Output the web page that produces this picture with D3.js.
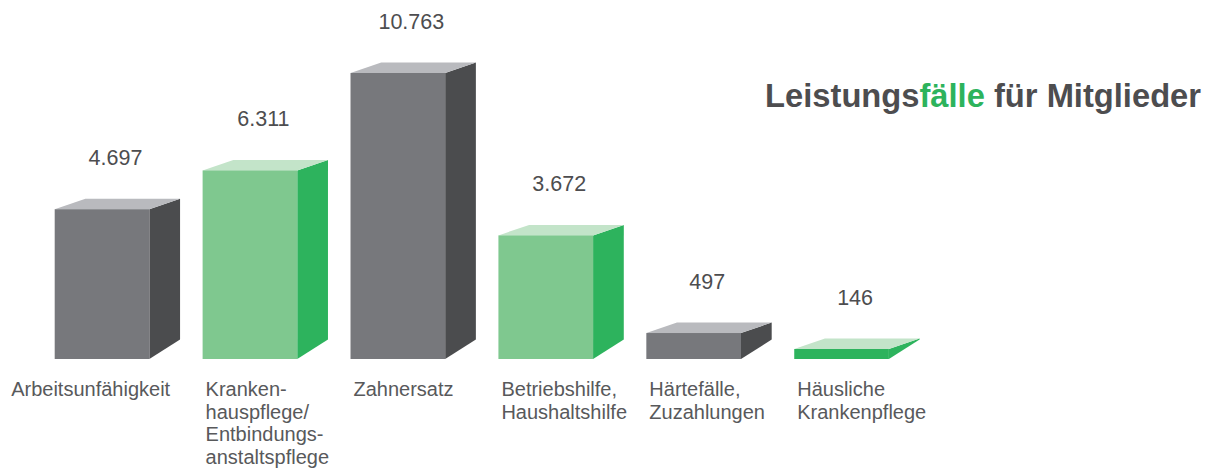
<!DOCTYPE html>
<html lang="de">
<head>
<meta charset="utf-8">
<title>Leistungsfälle für Mitglieder</title>
<script src="https://cdn.jsdelivr.net/npm/d3@7"></script>
<style>
    html, body { margin: 0; padding: 0; background: #ffffff; }
    svg { display: block; font-family: "Liberation Sans", Arial, sans-serif; }
</style>
</head>
<body>
<div id="chart"></div>
<script>
// data
const categories = ["Arbeitsunfähigkeit", "Krankenhauspflege", "Zahnersatz", "Betriebshilfe", "Härtefälle", "Häusliche Krankenpflege"];
const labelLines = [
    ["Arbeitsunfähigkeit"],
    ["Kranken-", "hauspflege/", "Entbindungs-", "anstaltspflege"],
    ["Zahnersatz"],
    ["Betriebshilfe,", "Haushaltshilfe"],
    ["Härtefälle,", "Zuzahlungen"],
    ["Häusliche", "Krankenpflege"]
];
const values = [4697, 6311, 10763, 3672, 497, 146];
const valueLabels = ["4.697", "6.311", "10.763", "3.672", "497", "146"];
const titleParts = ["Leistungs", "fälle", " für Mitglieder"];

document.addEventListener("DOMContentLoaded", function () {
    const width = 1213, height = 470;
    const baseY = 359;            // bottom edge of the front faces
    const depthX = 30.7, depthTop = 10.5, depthBottom = 19.5;

    const gray = { front: "#77787c", side: "#4b4c4e", top: "#b9babe" };
    const green = { front: "#7fc88f", side: "#2db35d", top: "#c3e4c9" };

    const svg = d3.select("#chart")
        .append("svg")
        .attr("width", width)
        .attr("height", height);

    svg.append("rect")
        .attr("width", width)
        .attr("height", height)
        .attr("fill", "#ffffff");

    const x = d3.scaleBand()
        .domain(categories)
        .range([54.7, 888.9])
        .paddingInner(0.36)
        .paddingOuter(0)
        .align(0);

    // the original bars are not drawn to a linear scale; a power scale follows them best
    const h = d3.scalePow()
        .exponent(0.78)
        .domain([0, d3.max(values)])
        .range([0, 286]);

    const bars = categories.map((c, i) => ({
        cat: c,
        value: values[i],
        label: valueLabels[i],
        lines: labelLines[i],
        colors: i % 2 === 0 ? gray : green
    }));

    const g = svg.append("g");

    const bar = g.selectAll("g.bar")
        .data(bars)
        .enter()
        .append("g")
        .attr("class", "bar");

    // side face
    bar.append("path")
        .attr("fill", d => d.colors.side)
        .attr("d", d => {
            const r = x(d.cat) + x.bandwidth();
            const top = baseY - h(d.value);
            const backTop = top - depthTop;
            const backBottom = Math.max(backTop, baseY - depthBottom);
            return `M${r},${top}L${r + depthX},${backTop}L${r + depthX},${backBottom}L${r},${baseY}Z`;
        });

    // top face
    bar.append("path")
        .attr("fill", d => d.colors.top)
        .attr("d", d => {
            const l = x(d.cat), r = l + x.bandwidth();
            const top = baseY - h(d.value);
            return `M${l},${top}L${l + depthX},${top - depthTop}L${r + depthX},${top - depthTop}L${r},${top}Z`;
        });

    // front face (very flat bars take the saturated colour, as in the original)
    bar.append("rect")
        .attr("x", d => x(d.cat))
        .attr("y", d => baseY - h(d.value))
        .attr("width", x.bandwidth())
        .attr("height", d => h(d.value))
        .attr("fill", d => h(d.value) < 15 ? d.colors.side : d.colors.front);

    // value labels
    bar.append("text")
        .attr("x", d => x(d.cat) + x.bandwidth() / 2 + 13.5)
        .attr("y", d => baseY - h(d.value) - 44)
        .attr("text-anchor", "middle")
        .attr("font-size", "21.5px")
        .attr("fill", "#4d4d4f")
        .text(d => d.label);

    // category labels
    const labels = bar.append("text")
        .attr("class", "cat-label")
        .attr("x", d => x(d.cat) + 3)
        .attr("y", 396)
        .attr("font-size", "20px")
        .attr("fill", "#58595b");

    labels.selectAll("tspan")
        .data(d => d.lines)
        .enter()
        .append("tspan")
        .attr("x", function () { return d3.select(this.parentNode).attr("x"); })
        .attr("dy", (d, i) => i === 0 ? 0 : 22.5)
        .text(d => d);

    // a label wider than a whole band step is pulled left so it stops short of the next one
    labels.each(function (d, i) {
        if (i === bars.length - 1) return;
        const w = this.getBBox().width;
        if (w <= x.step()) return;
        const el = d3.select(this);
        const nextX = x(bars[i + 1].cat) + 3;
        const nx = nextX - 35 - w;
        el.attr("x", nx);
        el.selectAll("tspan").attr("x", nx);
    });

    // title
    const title = svg.append("text")
        .attr("x", 1201)
        .attr("y", 107)
        .attr("text-anchor", "end")
        .attr("font-size", "32.7px")
        .attr("font-weight", "bold")
        .attr("fill", "#4d4d4f");

    title.selectAll("tspan")
        .data(titleParts)
        .enter()
        .append("tspan")
        .attr("fill", (d, i) => i === 1 ? "#2db35c" : "#4d4d4f")
        .attr("xml:space", "preserve")
        .style("white-space", "pre")
        .text(d => d);
});
</script>
</body>
</html>
